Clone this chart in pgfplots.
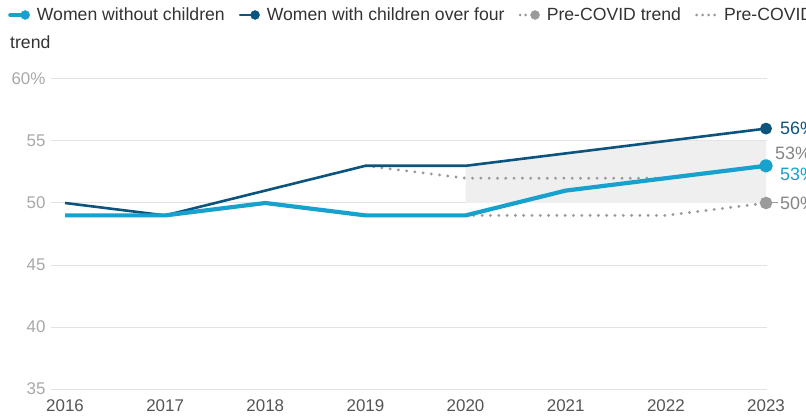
\documentclass[border=0pt]{standalone}
\usepackage{pgfplots}
\pgfplotsset{compat=1.18}
\usepackage{fontspec}
\setmainfont{Liberation Sans}

\definecolor{lightblue}{HTML}{18A1CD}
\definecolor{darkblue}{HTML}{0B547D}
\definecolor{trendgray}{HTML}{9A9A9A}
\definecolor{gridgray}{HTML}{E2E2E2}
\definecolor{shadegray}{HTML}{EFEFEF}
\definecolor{ylab}{HTML}{A8A8A8}
\definecolor{xlab}{HTML}{555555}
\definecolor{legtext}{HTML}{333333}
\definecolor{labgray}{HTML}{858585}

\newcommand{\tickfont}{\fontsize{17}{20}\selectfont}
\newcommand{\legfont}{\fontsize{17.7}{21}\selectfont}
\newcommand{\labfont}{\fontsize{18}{21}\selectfont}

\begin{document}
\begin{tikzpicture}
\path[use as bounding box] (-51bp,-28bp) rectangle (755bp,389bp);
\begin{axis}[
  scale only axis,
  width=716bp, height=310bp,
  xmin=2015.86, xmax=2023.01,
  ymin=35, ymax=60,
  axis line style={draw=none},
  tick style={draw=none},
  xtick={2016,2017,2018,2019,2020,2021,2022,2023},
  xticklabels={2016,2017,2018,2019,2020,2021,2022,2023},
  ytick={35,40,45,50,55,60},
  yticklabels={35,40,45,50,55,60\%},
  ymajorgrids,
  major grid style={gridgray, line width=1bp},
  clip=false,
  tick label style={font=\tickfont},
  xticklabel style={text=xlab, yshift=-7bp},
  yticklabel style={text=ylab, xshift=-2bp},
  legend style={at={(axis description cs:-0.0642,1.2065)}, anchor=west,
    draw=none, fill=none, font=\legfont, text=legtext,
    /tikz/every odd column/.append style={column sep=5bp},
    /tikz/every even column/.append style={column sep=12bp}},
  legend columns=4,
  legend cell align=left,
]

% legend keys
\addlegendimage{legend image code/.code={
  \draw[lightblue, line width=4bp, line cap=round] (0bp,0bp) -- (14bp,0bp);
  \fill[lightblue] (15bp,0bp) circle (4.5bp);}}
\addlegendentry{Women without children}
\addlegendimage{legend image code/.code={
  \draw[darkblue, line width=2.6bp, line cap=round] (0bp,0bp) -- (14bp,0bp);
  \fill[darkblue] (15bp,0bp) circle (4.5bp);}}
\addlegendentry{Women with children over four}
\addlegendimage{legend image code/.code={
  \draw[trendgray, line width=3bp, line cap=round, dash pattern=on 0bp off 5.5bp] (0bp,0bp) -- (8bp,0bp);
  \fill[trendgray] (15bp,0bp) circle (4.5bp);}}
\addlegendentry{Pre-COVID trend}
\addlegendimage{legend image code/.code={
  \draw[trendgray, line width=3bp, line cap=round, dash pattern=on 0bp off 6bp] (0bp,0bp) -- (19bp,0bp);}}
\addlegendentry{Pre-COVID}

% gap between the trend and the observed share of mothers
\addplot[draw=none, fill=shadegray, forget plot]
  coordinates {(2020,50) (2020,53) (2021,54) (2022,55) (2023,55) (2023,50)} -- cycle;

% pre-COVID trend, upper
\addplot[trendgray, line width=3.2bp, line cap=round, dash pattern=on 0bp off 8.3bp, forget plot]
  coordinates {(2019,53) (2020,52) (2021,52) (2022,52) (2023,53)};

% pre-COVID trend, lower
\addplot[trendgray, line width=3.2bp, line cap=round, dash pattern=on 0bp off 8.3bp, forget plot,
  mark=*, mark indices={4}, mark size=4.6bp, mark options={solid, draw=none, fill=trendgray}]
  coordinates {(2020,49) (2021,49) (2022,49) (2023,50)};

% women with children over four
\addplot[darkblue, line width=2.6bp, line join=round, forget plot,
  mark=*, mark indices={8}, mark size=4.6bp, mark options={draw=none, fill=darkblue}]
  coordinates {(2016,50) (2017,49) (2018,51) (2019,53) (2020,53) (2021,54) (2022,55) (2023,56)};

% women without children
\addplot[lightblue, line width=4.2bp, line join=round, forget plot,
  mark=*, mark indices={8}, mark size=4.6bp, mark options={draw=none, fill=lightblue}]
  coordinates {(2016,49) (2017,49) (2018,50) (2019,49) (2020,49) (2021,51) (2022,52) (2023,53)};

% end labels
\node[anchor=west, inner sep=0pt, text=darkblue, font=\labfont] at (axis cs:2023,56) [xshift=14bp] {56\%};
\node[anchor=west, inner sep=0pt, text=labgray, font=\labfont] at (axis cs:2023,53) [xshift=9bp, yshift=12bp] {53\%};
\node[anchor=west, inner sep=0pt, text=lightblue, font=\labfont] at (axis cs:2023,53) [xshift=14bp, yshift=-9bp] {53\%};
\draw[trendgray, line width=1bp] (axis cs:2023,50) -- ++(12bp,0bp);
\node[anchor=west, inner sep=0pt, text=labgray, font=\labfont] at (axis cs:2023,50) [xshift=14bp] {50\%};
\end{axis}
\node[anchor=west, inner sep=0pt, text=legtext, font=\legfont] at (-41bp,347bp) {trend};
\end{tikzpicture}
\end{document}
